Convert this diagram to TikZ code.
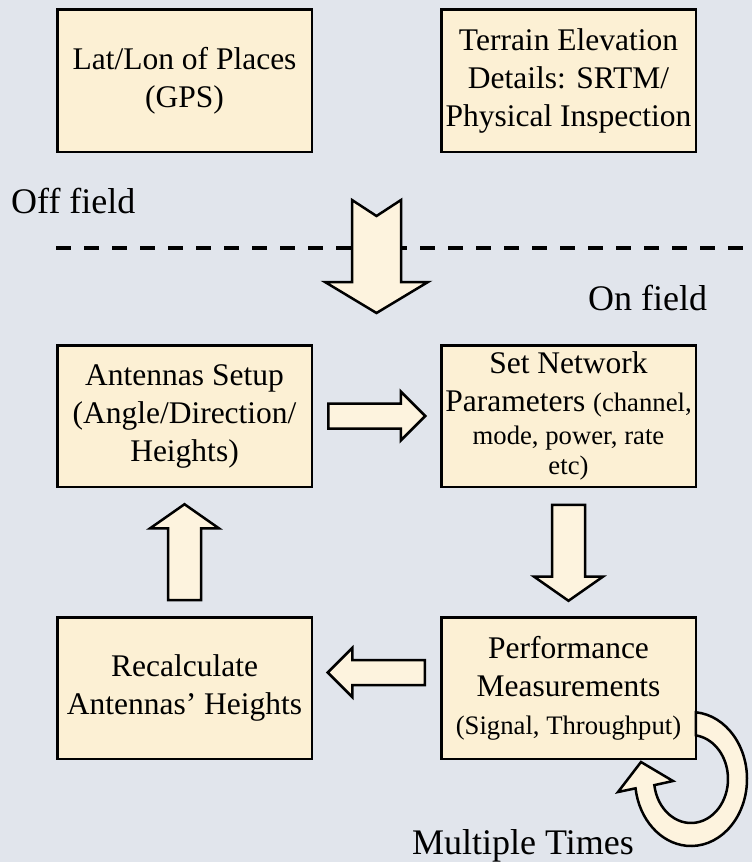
\documentclass[tikz,border=0pt]{standalone}
\usepackage{fontspec}
\setmainfont{Liberation Serif}
\usetikzlibrary{shapes.arrows,calc}

\definecolor{bgpaper}{RGB}{225,229,236}
\definecolor{parch}{RGB}{252,240,212}
\definecolor{parchlite}{RGB}{253,243,222}

\newcommand{\boxfont}{\fontsize{31.5}{38}\selectfont}
\newcommand{\smallboxfont}{\fontsize{26.7}{31}\selectfont}
\newcommand{\labelfont}{\fontsize{36}{43}\selectfont}

\tikzset{
  procbox/.style={draw=black, line width=2.5pt, fill=parch, minimum width=254.5pt, minimum height=141.5pt, inner sep=0pt, align=center, font=\boxfont},
  blockh/.style={single arrow, draw=black, line width=2.5pt, fill=parchlite, inner sep=11.25pt, minimum width=46.5pt, minimum height=97pt, single arrow head extend=12pt, single arrow tip angle=90},
  blockv/.style={single arrow, draw=black, line width=2.5pt, fill=parchlite, inner sep=15.25pt, minimum width=66.5pt, minimum height=96pt, single arrow head extend=18pt, single arrow tip angle=110},
  fieldlabel/.style={anchor=base west, inner sep=0pt, font=\labelfont}
}

\begin{document}
\begin{tikzpicture}[x=1pt,y=-1pt]
\useasboundingbox (0,0) rectangle (752,862);
\fill[bgpaper] (0,0) rectangle (752,862);
\node[procbox, minimum height=142.5pt] (lat) at (184.5,80.5) {Lat/Lon of Places\\(GPS)};
\node[procbox, minimum height=142.5pt] (terr) at (568.5,80.5) {Terrain Elevation\\Details: SRTM/\\Physical Inspection};
\node[fieldlabel] (off) at (11,213) {Off field};
\draw[line width=4.5pt, dash pattern=on 15pt off 13pt] (56,248) -- (752,248);
\draw[line width=2.5pt, fill=parchlite] (352,200) -- (376.5,216) -- (401,200) -- (401,282) -- (428,282) -- (376.5,313) -- (325,282) -- (352,282) -- cycle;
\node[fieldlabel] (on) at (588,310) {On field};
\node[procbox] (setup) at (184.5,416) {Antennas Setup\\(Angle/Direction/\\Heights)};
\node[procbox] (netw) at (568.5,416) {Set Network\\Parameters {\smallboxfont (channel,}\\[-5pt]{\smallboxfont mode, power, rate}\\[-8pt]{\smallboxfont etc)}};
\node[procbox] (recalc) at (184.5,688) {Recalculate\\Antennas’ Heights};
\node[procbox] (perf) at (568.5,688) {Performance\\Measurements\\{\smallboxfont (Signal, Throughput)}};
\path (setup) -- (netw) node[midway, blockh, xshift=-6pt] (a1) {};
\path (netw) -- (perf) node[midway, blockv, shape border rotate=270, yshift=5pt] (a2) {};
\path (perf) -- (recalc) node[midway, blockh, shape border rotate=180, xshift=6pt, yshift=15.5pt] (a3) {};
\path (recalc) -- (setup) node[midway, blockv, shape border rotate=90, yshift=-6pt] (a4) {};
\coordinate (lc) at ([xshift=-6pt,yshift=-19pt]perf.south east);
\draw[line width=2.5pt, fill=parchlite] ($(lc)+(-85.1:56 and 67)$) arc[start angle=-85.1, end angle=172, x radius=56, y radius=67] -- ($(lc)+(-73,13)$) -- ($(lc)+(-50,-17)$) -- ($(lc)+(-18,2)$) -- ($(lc)+(172:37 and 44)$) arc[start angle=172, end angle=-82.6, x radius=37, y radius=44] -- cycle;
\node[fieldlabel] (mult) at (412,854) {Multiple Times};
\end{tikzpicture}
\end{document}
